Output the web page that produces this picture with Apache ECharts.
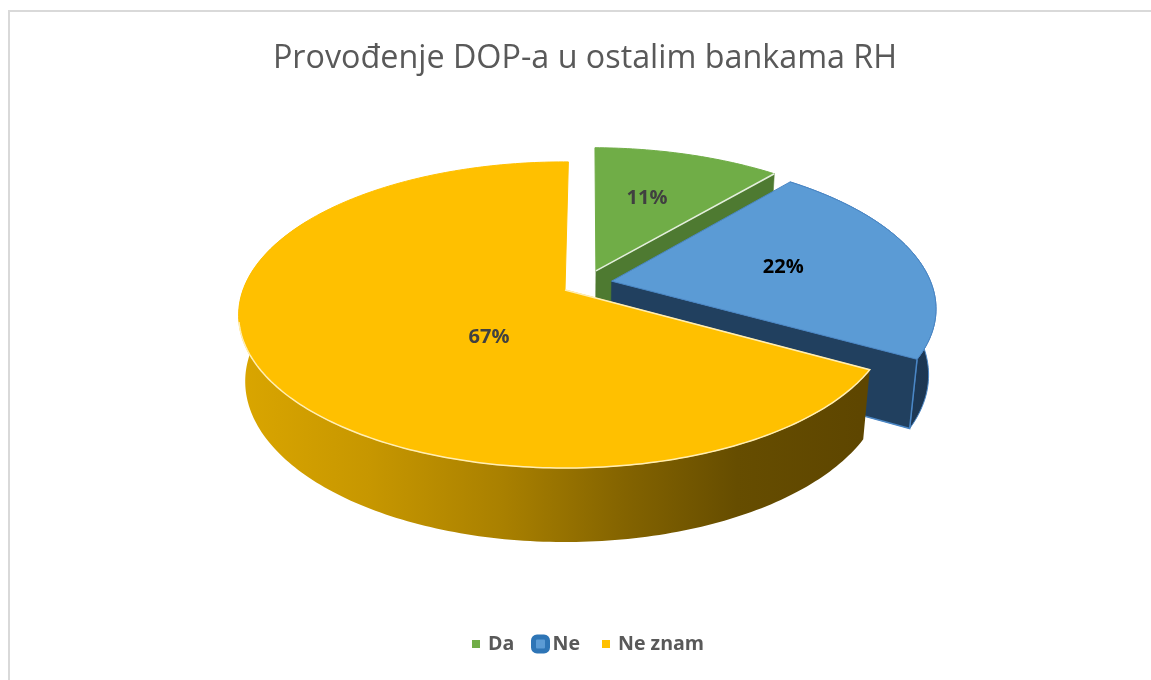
<!DOCTYPE html>
<html>
<head>
<meta charset="utf-8">
<title>Provođenje DOP-a u ostalim bankama RH</title>
<style>
  html, body { margin: 0; padding: 0; background: #fff; }
  #pie3d { width: 1151px; height: 680px; }
</style>
<script src="https://cdn.jsdelivr.net/npm/echarts@6/dist/echarts.min.js"></script>
</head>
<body>
<div id="pie3d"></div>
<script>
// podaci
const categories = ['Da', 'Ne', 'Ne znam'];
const values = [11, 22, 67];
const chartTitle = 'Provođenje DOP-a u ostalim bankama RH';

// izgled kriški
const topColors = ['#70ad47', '#5b9bd5', '#ffc000'];
const rimColors = ['#70ad47', '#4a86c5', '#ffc000'];
const cutColors = ['#4e7a31', '#21405f', '#8a6800'];
const labelColors = ['#404040', '#000000', '#404040'];
// izvlacenje kriski iz sredista (u, v) i polozaj oznaka
const explode = [[0.098, -0.131], [0.146, -0.06], [0, 0]];
const labelAt = [[0.283, -0.687], [0.695, -0.157], [-0.2245, 0.3]];

// perspektiva
const cx = 565, cy = 290, kx = 322, ky = 149, persp = 0.163, depth = 67, depthPersp = 0.02;
const firstAngle = 0.7;
const fontName = '"Open Sans", sans-serif';

function project(u, v, z) {
  const w = 1 - persp * v + depthPersp * z;
  return [cx + kx * u / w, cy + (ky * v + depth * z) / w];
}

function arcPoints(off, a0, a1, z) {
  const pts = [];
  const n = Math.ceil(a1 - a0);
  for (let i = 0; i <= n; i++) {
    const a = (a0 + (a1 - a0) * i / n) * Math.PI / 180;
    pts.push(project(off[0] + Math.sin(a), off[1] - Math.cos(a), z));
  }
  return pts;
}

function sideFill(i) {
  if (i === 2) {
    return new echarts.graphic.LinearGradient(245, 0, 860, 0, [
      { offset: 0, color: '#d9a500' },
      { offset: 0.2, color: '#c79700' },
      { offset: 0.42, color: '#a98000' },
      { offset: 0.62, color: '#836300' },
      { offset: 0.8, color: '#664d00' },
      { offset: 1, color: '#5e4600' }
    ], true);
  }
  return new echarts.graphic.LinearGradient(820, 0, 936, 0, [
    { offset: 0, color: '#21405f' },
    { offset: 1, color: '#1c3652' }
  ], true);
}

function renderSlice(params, api) {
  const i = params.seriesIndex;
  const total = values.reduce((s, d) => s + d, 0);
  const before = values.slice(0, i).reduce((s, d) => s + d, 0);
  const val = api.value(0);
  const a0 = firstAngle + before / total * 360;
  const a1 = firstAngle + (before + val) / total * 360;
  const off = explode[i];
  const top = arcPoints(off, a0, a1, 0);
  const bottom = arcPoints(off, a0, a1, 1);
  const apexTop = project(off[0], off[1], 0);
  const apexBottom = project(off[0], off[1], 1);
  const children = [];

  // vanjski zid (zelena kriska je straga, ne vidi se; zuti zid straga isto nije vidljiv)
  if (i > 0) {
    const wallEnd = i === 2 ? 300 : a1;
    children.push({
      type: 'polygon',
      shape: { points: arcPoints(off, a0, wallEnd, 0).concat(arcPoints(off, a0, wallEnd, 1).reverse()) },
      style: { fill: sideFill(i), stroke: i === 1 ? '#4a86c5' : null, lineWidth: 1 }
    });
  }
  // rez na kraju kriske
  if (i < 2) {
    const tipTop = top[top.length - 1];
    const tipBottom = bottom[bottom.length - 1];
    children.push({
      type: 'polygon',
      shape: { points: [apexTop, tipTop, tipBottom, apexBottom] },
      style: { fill: cutColors[i], stroke: i === 1 ? '#21405f' : cutColors[i], lineWidth: 0.5 }
    });
    if (i === 1) {
      children.push({
        type: 'polyline',
        shape: { points: [tipTop, tipBottom, apexBottom] },
        style: { fill: null, stroke: '#4a86c5', lineWidth: 1.5 }
      });
    }
  }
  // gornja ploha
  children.push({
    type: 'polygon',
    shape: { points: [apexTop].concat(top) },
    style: { fill: topColors[i], stroke: rimColors[i], lineWidth: 1 }
  });
  if (i === 0) {
    children.push({
      type: 'line',
      shape: { x1: apexTop[0], y1: apexTop[1], x2: top[top.length - 1][0], y2: top[top.length - 1][1] },
      style: { stroke: '#e4eedd', lineWidth: 1.5 }
    });
  }
  // svijetli rub samo sprijeda, gdje se vidi zid
  if (i === 2) {
    children.push({
      type: 'polyline',
      shape: { points: [apexTop].concat(arcPoints(off, a0, 258, 0)) },
      style: { fill: null, stroke: '#ffeeb5', lineWidth: 1.5 }
    });
  }
  // oznaka
  const lp = project(labelAt[i][0], labelAt[i][1], 0);
  children.push({
    type: 'text',
    style: {
      text: val + '%',
      x: lp[0],
      y: lp[1],
      fill: labelColors[i],
      font: 'bold 20px ' + fontName,
      align: 'center',
      verticalAlign: 'middle'
    }
  });
  return { type: 'group', children: children };
}

const myChart = echarts.init(document.getElementById('pie3d'));

const legendLeft = [472, 531, 602];
const option = {
  animation: false,
  backgroundColor: '#fff',
  title: {
    text: chartTitle,
    left: 580,
    top: 38,
    textAlign: 'center',
    textStyle: { color: '#595959', fontSize: 32.3, fontWeight: 'normal', fontFamily: fontName }
  },
  legend: categories.map((name, i) => ({
    left: legendLeft[i],
    top: 634,
    selectedMode: false,
    icon: i === 1 ? 'roundRect' : 'rect',
    itemWidth: i === 1 ? 14 : 8,
    itemHeight: i === 1 ? 14 : 8,
    itemGap: 0,
    padding: 0,
    data: [{
      name: name,
      itemStyle: i === 1
        ? { color: '#5b9bd5', borderColor: '#2e75b6', borderWidth: 5 }
        : { color: topColors[i] }
    }],
    textStyle: {
      color: '#595959',
      fontSize: 19.6,
      fontWeight: 'bold',
      fontFamily: fontName,
      padding: i === 1 ? 0 : [0, 0, 0, 3]
    }
  })),
  graphic: [{
    type: 'rect',
    silent: true,
    shape: { x: 9, y: 11, width: 1170, height: 700 },
    style: { fill: null, stroke: '#d9d9d9', lineWidth: 2 }
  }],
  series: categories.map((name, i) => ({
    type: 'custom',
    name: name,
    coordinateSystem: 'none',
    silent: true,
    z: 2 + i,
    itemStyle: { color: topColors[i] },
    data: [[values[i]]],
    renderItem: renderSlice
  }))
};
myChart.setOption(option);

window.addEventListener('resize', () => {
  myChart.resize();
});
</script>
</body>
</html>
